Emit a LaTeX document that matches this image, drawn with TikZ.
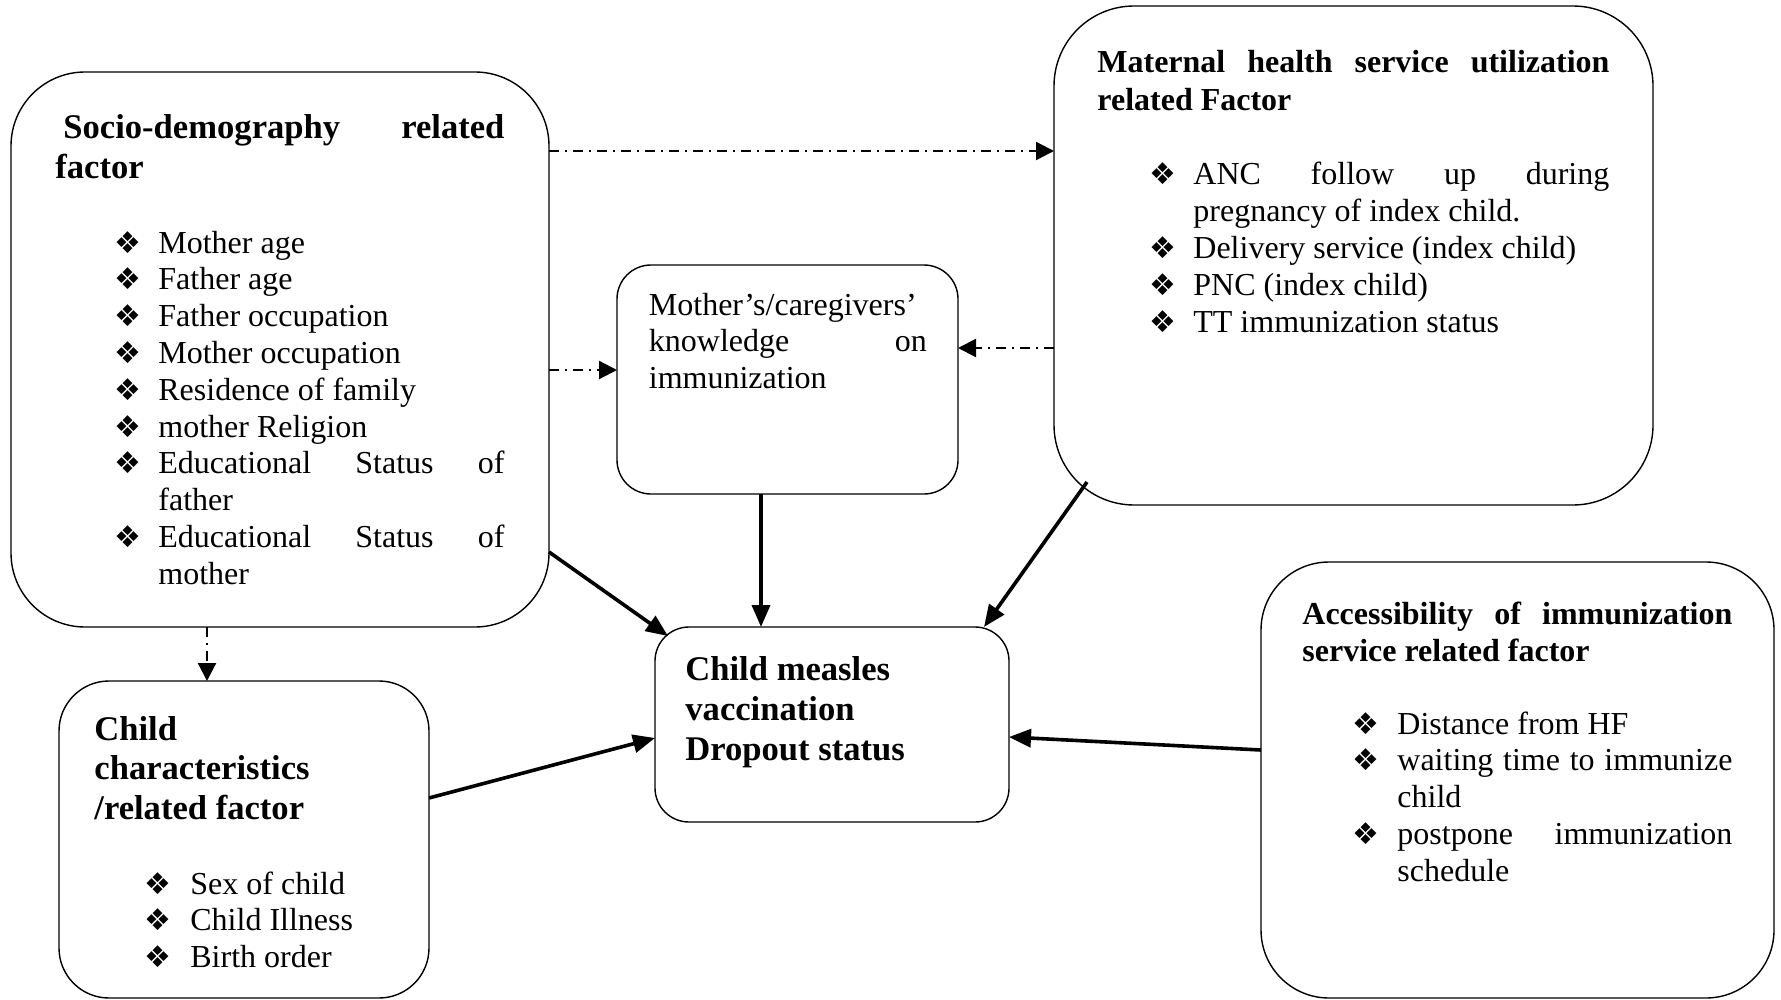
\documentclass[tikz,border=0pt]{standalone}
\usepackage{fontspec}
\setmainfont{Liberation Serif}
\newfontfamily\dvs{DejaVu Sans}
\usetikzlibrary{arrows.meta,calc}
\hyphenpenalty=10000
\exhyphenpenalty=10000

\newcommand{\bul}{\raisebox{0pt}{\dvs\fontsize{15pt}{15pt}\selectfont ❖}}
\newcommand{\itm}[2][22pt]{\hangindent=#1\hangafter=1\noindent\makebox[#1][l]{\bul}#2\par}

\tikzset{
  box/.style={draw=black, line width=0.7pt, inner sep=0pt, outer sep=0pt},
  txt/.style={anchor=base west, inner sep=0pt, align=justify, font=\fontsize{16pt}{18.4pt}\selectfont},
  ttl/.style={txt, font=\bfseries\fontsize{16pt}{18.6pt}\selectfont},
  ttlL/.style={txt, font=\bfseries\fontsize{17.3pt}{19.9pt}\selectfont},
  arrS/.style={-{Triangle[length=11pt,width=9pt]}, line width=1.8pt},
  arrD/.style={-{Triangle[length=9pt,width=9pt]}, line width=1.1pt, dash pattern=on 5pt off 3pt on 1pt off 3pt}
}

\begin{document}
\begin{tikzpicture}[x=0.5pt,y=-0.5pt]
  \useasboundingbox (0,0) rectangle (1781,1000);

  % boxes
  \node[box, rounded corners=37pt, minimum width=269pt, minimum height=277.5pt] (socio) at (280,349.5) {};
  \node[box, rounded corners=40pt, minimum width=299.5pt, minimum height=249.5pt] (maternal) at (1353.5,255.5) {};
  \node[box, rounded corners=17pt, minimum width=170.5pt, minimum height=114.5pt] (know) at (787.5,379.5) {};
  \node[box, rounded corners=17pt, minimum width=177pt, minimum height=97.5pt] (measles) at (832,724.5) {};
  \node[box, rounded corners=25pt, minimum width=185pt, minimum height=158.5pt] (child) at (244,839.5) {};
  \node[box, rounded corners=34pt, minimum width=256.5pt, minimum height=218pt] (access) at (1517.5,780) {};

  % socio-demography
  \node[ttlL, text width=224.5pt] (sociott) at (55,139) {\hspace*{4pt}Socio-demography\hfill related\\factor};
  \node[txt, text width=195pt] (sociols) at (114,253) {%
    \itm{Mother age}
    \itm{Father age}
    \itm{Father occupation}
    \itm{Mother occupation}
    \itm{Residence of family}
    \itm{mother Religion}
    \itm{Educational\hfill Status\hfill of\\father}
    \itm{Educational\hfill Status\hfill of\\mother}};

  % maternal health
  \node[ttl, text width=256pt] (materntt) at (1097,73) {Maternal\hfill health\hfill service\hfill utilization\\related Factor};
  \node[txt, text width=230pt] (maternls) at (1149,185) {%
    \itm{ANC\hfill follow\hfill up\hfill during\\pregnancy of index child.}
    \itm{Delivery service (index child)}
    \itm{PNC (index child)}
    \itm{TT immunization status}};

  % knowledge
  \node[txt, text width=139pt] (knowtx) at (648.5,315) {Mother’s/caregivers’\\knowledge\hfill on\\immunization};

  % outcome
  \node[ttlL, text width=160pt, font=\bfseries\fontsize{17.3pt}{20pt}\selectfont] (measlestx) at (685,680) {Child measles\\vaccination\\Dropout status};

  % child characteristics
  \node[ttlL, text width=170pt] (childtt) at (94,740) {Child\\characteristics\\/related factor};
  \node[txt, text width=180pt] (childls) at (144,894) {%
    \itm[23pt]{Sex of child}
    \itm[23pt]{Child Illness}
    \itm[23pt]{Birth order}};

  % accessibility
  \node[ttl, text width=215pt] (accesstt) at (1302,624) {Accessibility\hfill of\hfill immunization\\service related factor};
  \node[txt, text width=190pt] (accessls) at (1352,734) {%
    \itm[22.5pt]{Distance from HF}
    \itm[22.5pt]{waiting\hfill time\hfill to\hfill immunize\\child}
    \itm[22.5pt]{postpone\hfill immunization\\schedule}};

  % dash-dot links
  \draw[arrD] (socio.east |- 0,151) -- (maternal.west |- 0,151);
  \draw[arrD] (socio.east |- 0,370) -- (know.west |- 0,370);
  \draw[arrD] (maternal.west |- 0,348) -- (know.east |- 0,348);
  \draw[arrD] (socio.south -| 207,0) -- (child.north -| 207,0);

  % solid links
  \draw[arrS] (socio.east |- 0,552) -- ($(measles.north west)+(13,9)$);
  \draw[arrS] (know.south -| 761,0) -- (measles.north -| 761,0);
  \draw[arrS] ($(maternal.south west)+(33,-23)$) -- ($(measles.north east)+(-25,0)$);
  \draw[arrS] (child.east |- 0,798) -- (measles.west |- 0,738);
  \draw[arrS] (access.west |- 0,750) -- (measles.east |- 0,737);
\end{tikzpicture}
\end{document}
